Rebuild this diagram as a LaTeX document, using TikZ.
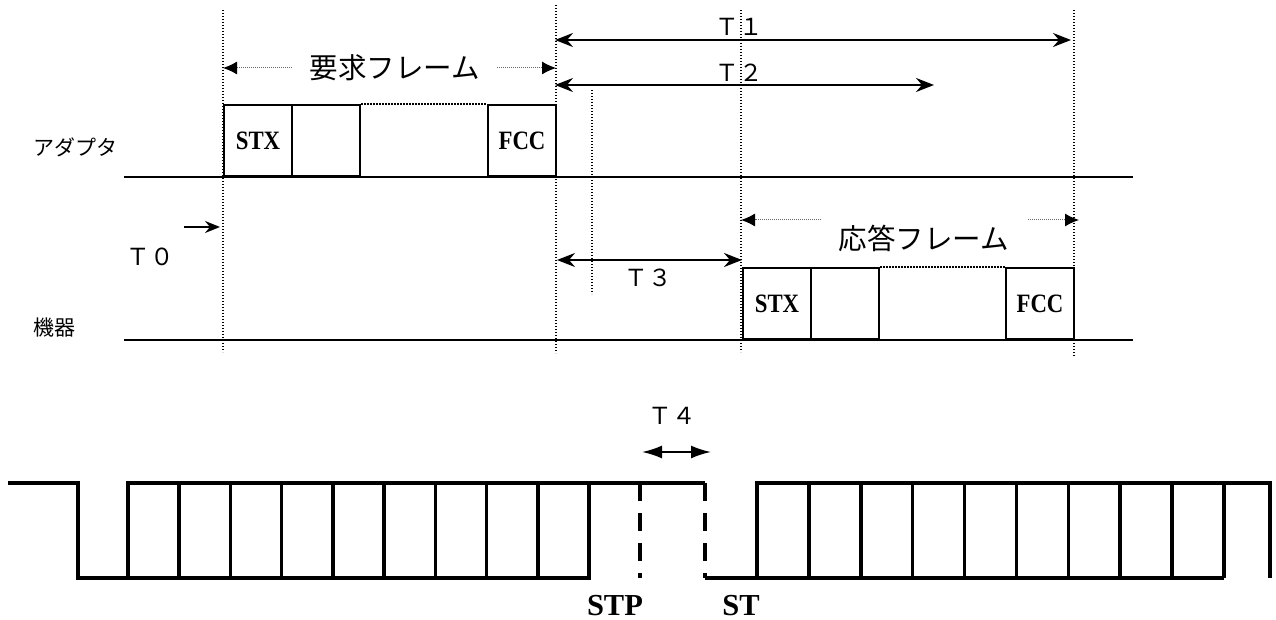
\documentclass[tikz,border=0pt]{standalone}
\usepackage{fontspec}
\usepackage{graphicx}
\setmainfont{Liberation Serif}
\newfontfamily\jp{Noto Sans CJK JP}
\usetikzlibrary{arrows.meta}
\newcommand{\boxtxt}[1]{\raisebox{-5pt}{\scalebox{0.86}[1]{#1}}}
\begin{document}
\begin{tikzpicture}[x=1pt,y=-1pt,
  baseline/.style={line width=2pt},
  vdot/.style={line width=1.2pt, dash pattern=on 1.2pt off 1.8pt},
  topdot/.style={line width=1.5pt, dash pattern=on 1.5pt off 1.5pt},
  framedot/.style={line width=1pt, dash pattern=on 1pt off 1pt, black!60, -{Latex[length=14pt,width=13pt,black]}},
  tarrow/.style={line width=2pt, {Stealth[length=18pt,width=14pt,inset=6pt]}-{Stealth[length=18pt,width=14pt,inset=6pt]}},
  frm/.style={draw, line width=2pt, minimum width=68pt, minimum height=71pt, inner sep=0pt, anchor=south west},
  frmtxt/.style={font=\bfseries\fontsize{26.5}{30}\selectfont},
  jlabel/.style={font=\jp\fontsize{21}{25}\selectfont, inner sep=0pt},
  jframe/.style={font=\jp\fontsize{28.5}{32}\selectfont, inner sep=0pt},
  tlabel/.style={font=\jp\fontsize{23.5}{26}\selectfont, inner sep=0pt},
  wlabel/.style={font=\bfseries\fontsize{30.5}{34}\selectfont, inner sep=0pt},
  wave/.style={line width=3.5pt, line join=miter},
  wdash/.style={line width=3.5pt, dash pattern=on 18pt off 12pt}]
\useasboundingbox (0,0) rectangle (1276,620);

% dotted vertical guides
\coordinate (g1t) at (223,10);  \coordinate (g1b) at (223,352);
\coordinate (g2t) at (556,5);   \coordinate (g2b) at (556,353);
\coordinate (g3t) at (592,90);  \coordinate (g3b) at (592,294);
\coordinate (g4t) at (741,10);  \coordinate (g4b) at (741,352);
\coordinate (g5t) at (1074,10); \coordinate (g5b) at (1074,357);
\foreach \g in {1,...,5} \draw[vdot] (g\g t) -- (g\g b);

% time lines
\coordinate (adL) at (124,177); \coordinate (adR) at (1133,177);
\coordinate (dvL) at (124,340); \coordinate (dvR) at (1133,340);
\draw[baseline] (adL) -- (adR);
\draw[baseline] (dvL) -- (dvR);

\node[jlabel] (ad) at (75,147) {アダプタ};
\node[jlabel] (dv) at (54,328) {機器};

% request frame boxes
\node[frm,frmtxt] (a1) at (223,177) {\boxtxt{STX}};
\node[frm] (a2) at (291,177) {};
\node[frm,frmtxt] (a3) at (487,177) {\boxtxt{FCC}};
\draw[topdot] (a2.north east) -- (a3.north west);

% response frame boxes
\node[frm,frmtxt] (b1) at (742,340) {\boxtxt{STX}};
\node[frm] (b2) at (810,340) {};
\node[frm,frmtxt] (b3) at (1005,340) {\boxtxt{FCC}};
\draw[topdot] (b2.north east) -- (b3.north west);

% frame labels with arrows
\node[jframe] (req) at (395,68) {要求フレーム};
\coordinate (reqL) at (223,68); \coordinate (reqR) at (556,68);
\draw[framedot] ([xshift=-18pt]req.west) -- (reqL);
\draw[framedot] ([xshift=17pt]req.east) -- (reqR);

\node[jframe] (res) at (924,238) {応答フレーム};
\coordinate (resL) at (741,220); \coordinate (resR) at (1079,220);
\coordinate (resLs) at (821,220); \coordinate (resRs) at (1028,220);
\draw[framedot] (resLs) -- (resL);
\draw[framedot] (resRs) -- (resR);

% timing arrows
\coordinate (t1a) at (555,40);  \coordinate (t1b) at (1071,40);
\coordinate (t2a) at (555,85);  \coordinate (t2b) at (934,85);
\coordinate (t3a) at (557,260); \coordinate (t3b) at (742,260);
\coordinate (t0a) at (184,227); \coordinate (t0b) at (220,227);
\draw[tarrow] (t1a) -- (t1b);
\draw[tarrow] (t2a) -- (t2b);
\draw[tarrow] (t3a) -- (t3b);
\draw[line width=2pt, -{Stealth[length=15pt,width=12pt,inset=5pt]}] (t0a) -- (t0b);
\node[tlabel] (t1) at (739,27) {Ｔ１};
\node[tlabel] (t2) at (739,73) {Ｔ２};
\node[tlabel] (t3) at (648,278) {Ｔ３};
\node[tlabel] (t0) at (150,257) {Ｔ０};

% waveform
\draw[wave] (8,483) -- (78,483) -- (78,578) -- (589,578) -- (589,483);
\draw[wave] (128,578) -- (128,483) -- (705,483);
\foreach \i in {1,...,8} \draw[wave] (128+\i*51.22,483) -- (128+\i*51.22,578);
\draw[wdash] (640,483) -- (640,578);
\draw[wdash] (705,483) -- (705,578);
\draw[wave] (705,578) -- (1224,578);
\draw[wave] (757,578) -- (757,483) -- (1270,483) -- (1270,578);
\foreach \i in {1,...,9} \draw[wave] (757+\i*51.89,483) -- (757+\i*51.89,578);

\coordinate (t4a) at (642,452); \coordinate (t4b) at (711,452);
\draw[line width=2pt, {Latex[length=20pt,width=13pt]}-{Latex[length=20pt,width=13pt]}] (t4a) -- (t4b);
\node[tlabel] (t4) at (672,416) {Ｔ４};
\node[wlabel] (stp) at (615,606) {STP};
\node[wlabel] (st) at (741,606) {ST};
\end{tikzpicture}
\end{document}
